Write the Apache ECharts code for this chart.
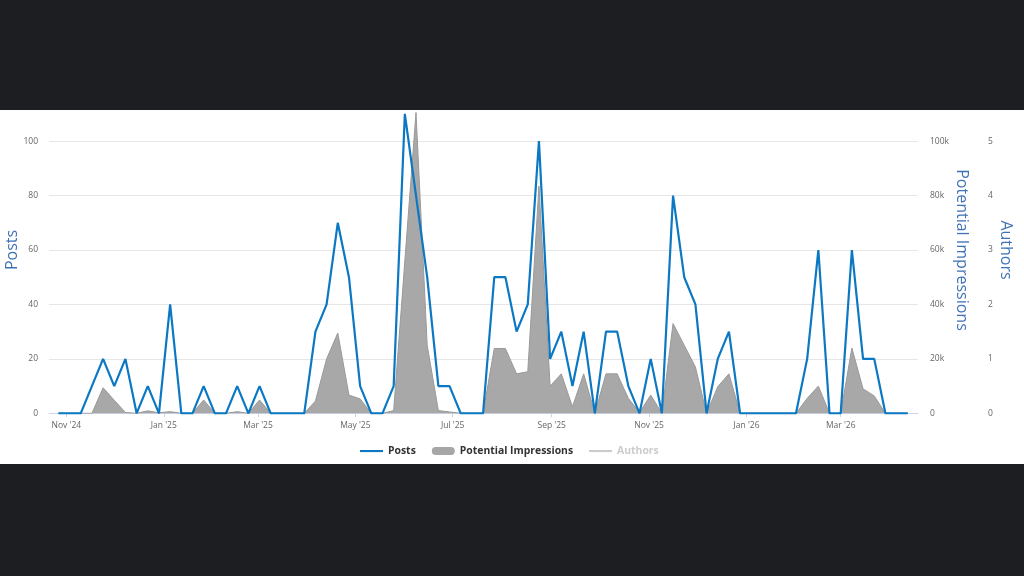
<!DOCTYPE html>
<html>
<head>
<meta charset="utf-8">
<script src="https://cdn.jsdelivr.net/npm/echarts@6/dist/echarts.min.js"></script>
<style>
  html, body { margin: 0; padding: 0; background: #1c1e21; width: 1024px; height: 576px; overflow: hidden; }
  #wrap { position: absolute; left: 0; top: 110px; width: 1024px; height: 354px; background: #ffffff; overflow: hidden; }
  #chart { position: absolute; left: 0; top: -110px; width: 1024px; height: 464px; }
</style>
</head>
<body>
<div id="wrap"><div id="chart"></div></div>
<script>
// ---- data ----
const firstWeek = '2024-10-27';
const weekCount = 77;

const posts = [
  0, 0, 0, 10, 20, 10, 20, 0, 10, 0,
  40, 0, 0, 10, 0, 0, 10, 0, 10, 0,
  0, 0, 0, 30, 40, 70, 50, 10, 0, 0,
  10, 110, 80, 50, 10, 10, 0, 0, 0, 50,
  50, 30, 40, 100, 20, 30, 10, 30, 0, 30,
  30, 10, 0, 20, 0, 80, 50, 40, 0, 20,
  30, 0, 0, 0, 0, 0, 0, 20, 60, 0,
  0, 60, 20, 20, 0, 0, 0
];

const impressions = [
  0, 0, 0, 0, 9400, 4800, 300, 0, 900, 200,
  600, 0, 0, 4900, 0, 0, 600, 0, 4900, 0,
  0, 0, 0, 4500, 20000, 29500, 6700, 5300, 0, 0,
  1000, 56000, 110500, 25000, 1000, 500, 0, 0, 0, 23800,
  23800, 14500, 15300, 83500, 10000, 14500, 2400, 14500, 0, 14500,
  14500, 5500, 300, 6700, 0, 33000, 25000, 17000, 0, 9800,
  14500, 0, 0, 0, 0, 0, 0, 5500, 10000, 0,
  0, 24000, 9000, 6400, 0, 0, 0
];

const authors = [
  0, 0, 0, 1, 1, 1, 1, 0, 1, 0,
  1, 0, 0, 1, 0, 0, 1, 0, 1, 0,
  0, 0, 0, 1, 1, 1, 1, 1, 0, 0,
  1, 1, 1, 1, 1, 1, 0, 0, 0, 1,
  1, 1, 1, 1, 1, 1, 1, 1, 0, 1,
  1, 1, 0, 1, 0, 1, 1, 1, 0, 1,
  1, 0, 0, 0, 0, 0, 0, 1, 1, 0,
  0, 1, 1, 1, 0, 0, 0
];

const tickDates = ['2024-11-01', '2025-01-01', '2025-03-01', '2025-05-01', '2025-07-01',
                   '2025-09-01', '2025-11-01', '2026-01-01', '2026-03-01'];
const tickLabels = ["Nov '24", "Jan '25", "Mar '25", "May '25", "Jul '25",
                    "Sep '25", "Nov '25", "Jan '26", "Mar '26"];

const seriesNames = ['Posts', 'Potential Impressions', 'Authors'];

// ---- build ----
function utc(s) { const p = s.split('-').map(Number); return Date.UTC(p[0], p[1] - 1, p[2]); }
const DAY = 86400000;
const start = utc(firstWeek);
const weeks = [];
for (let i = 0; i < weekCount; i++) weeks.push(start + i * 7 * DAY);
const tickValues = tickDates.map(utc);

const xMin = utc('2024-10-21') + 3 * 3600000;
const xMax = utc('2026-04-18') + 10 * 3600000;

const chart = echarts.init(document.getElementById('chart'), null, { renderer: 'canvas' });
const labelStyle = { color: '#666666', fontSize: 8.5, fontFamily: 'Open Sans' };
const nameStyle = { color: '#3f72b5', fontSize: 16, fontFamily: 'Open Sans' };
const lineIcon = 'path://M0,0 M23,9 M0,3.5 L23,3.5 L23,5.6 L0,5.6 Z';
const pillIcon = 'path://M4,0 L19,0 A4,4 0 0 1 19,8 L4,8 A4,4 0 0 1 4,0 Z';

chart.setOption({
  animation: false,
  textStyle: { fontFamily: 'Open Sans' },
  grid: { left: 49, right: 106, top: 86.7, bottom: 50.7, containLabel: false, outerBoundsMode: 'none' },
  legend: {
    left: 360, top: 446, padding: 0,
    itemWidth: 23, itemHeight: 9, itemGap: 16,
    textStyle: { color: '#333333', fontWeight: 'bold', fontSize: 10.4, fontFamily: 'Open Sans' },
    inactiveColor: '#cccccc',
    data: [
      { name: seriesNames[0], icon: lineIcon },
      { name: seriesNames[1], icon: pillIcon },
      { name: seriesNames[2], icon: lineIcon }
    ],
    selected: { 'Authors': false }
  },
  xAxis: {
    type: 'value',
    min: xMin, max: xMax,
    axisLine: { show: true, onZero: false, lineStyle: { color: '#ccd6eb', width: 1 } },
    axisTick: { show: true, length: 4, lineStyle: { color: '#ccd6eb' }, customValues: tickValues },
    axisLabel: {
      ...labelStyle, margin: 8, customValues: tickValues, showMinLabel: true, showMaxLabel: true,
      formatter: function (v) {
        let best = 0, bd = Infinity;
        tickValues.forEach((t, i) => { const d = Math.abs(t - v); if (d < bd) { bd = d; best = i; } });
        return tickLabels[best];
      }
    },
    splitLine: { show: false }
  },
  yAxis: [
    {
      type: 'value', position: 'left', min: 0, max: 120, interval: 20,
      name: 'Posts', nameLocation: 'middle', nameGap: 29, nameMoveOverlap: false, nameTextStyle: nameStyle,
      axisLine: { show: false }, axisTick: { show: false },
      axisLabel: { ...labelStyle, margin: 11, showMaxLabel: false },
      splitLine: { show: true, lineStyle: { color: '#e6e6e6', width: 1 } }
    },
    {
      type: 'value', position: 'right', min: 0, max: 120000, interval: 20000,
      name: 'Potential Impressions', nameLocation: 'middle', nameGap: 36, nameRotate: -90,
      nameMoveOverlap: false, nameTextStyle: nameStyle,
      axisLine: { show: false }, axisTick: { show: false },
      axisLabel: { ...labelStyle, margin: 12, showMaxLabel: false,
        formatter: function (v) { return v === 0 ? '0' : (v / 1000) + 'k'; } },
      splitLine: { show: false }
    },
    {
      type: 'value', position: 'right', offset: 58, min: 0, max: 6, interval: 1,
      name: 'Authors', nameLocation: 'middle', nameGap: 22, nameRotate: -90,
      nameMoveOverlap: false, nameTextStyle: nameStyle,
      axisLine: { show: false }, axisTick: { show: false },
      axisLabel: { ...labelStyle, margin: 12, showMaxLabel: false },
      splitLine: { show: false }
    }
  ],
  series: [
    {
      name: seriesNames[0], type: 'line', yAxisIndex: 0, z: 4,
      symbol: 'none', showSymbol: false,
      lineStyle: { color: '#0b78c3', width: 2.2 },
      itemStyle: { color: '#0b78c3' },
      data: weeks.map((w, i) => [w, posts[i]])
    },
    {
      name: seriesNames[1], type: 'line', yAxisIndex: 1, z: 2,
      symbol: 'none', showSymbol: false,
      lineStyle: { color: '#9a9a9a', width: 1 },
      itemStyle: { color: '#a6a6a6' },
      areaStyle: { color: '#a8a8a8', opacity: 1 },
      data: weeks.map((w, i) => [w, impressions[i]])
    },
    {
      name: seriesNames[2], type: 'line', yAxisIndex: 2, z: 3,
      symbol: 'none', showSymbol: false,
      lineStyle: { color: '#cccccc', width: 2 },
      itemStyle: { color: '#cccccc' },
      data: weeks.map((w, i) => [w, authors[i]])
    }
  ]
});
</script>
</body>
</html>
